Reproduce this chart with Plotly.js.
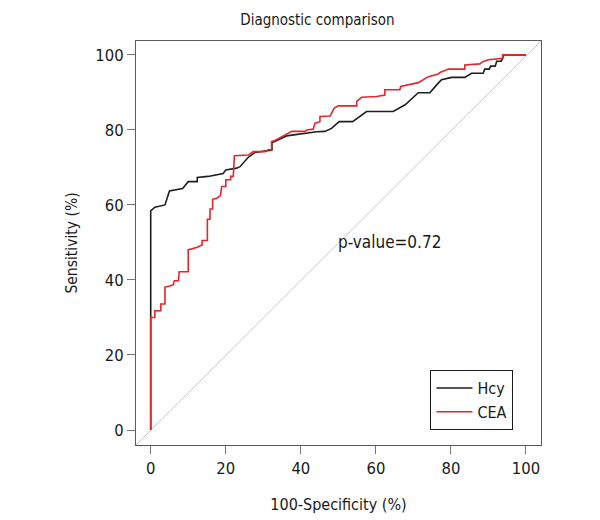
<!DOCTYPE html>
<html>
<head>
<meta charset="utf-8">
<script src="https://cdn.plot.ly/plotly-3.0.1.min.js"></script>
<style>html,body{margin:0;padding:0;background:#fff;}#chart{width:600px;height:520px;}</style>
</head>
<body>
<div id="chart"></div>
<script>
const seriesNames = ["Hcy", "CEA"];
const hcyX = [0,0,1.1,3.8,5,8.5,10,12.4,12.4,15.3,19.3,20,22.9,23.8,26,27.8,32.3,32.3,34.9,36.2,44.2,46.4,48.2,50.2,53.8,57.5,64.6,67.8,71.3,74.4,76.2,77.5,80.2,83.7,85.5,88.6,89,90.2,90.6,91.8,92.2,93.4,93.8,94,100];
const hcyY = [0,58.4,59.4,60,63.7,64.4,66.2,66.2,67.3,67.6,68.4,69.3,69.8,70.2,72.7,74,74.6,76.6,77.8,78.4,79.5,79.6,80.4,82.2,82.2,84.9,84.9,86.7,89.9,89.9,92,93.4,94,94,95.1,95.1,96.2,96.2,97,97,98.3,98.3,99.2,100,100];
const ceaX = [0,0,1.1,1.1,2.7,2.7,3.8,3.8,5,6,6.3,7.4,7.6,10,10,11.2,12.4,13.7,13.7,15.1,15.1,15.8,15.8,16.5,16.5,17.6,18.6,18.9,20,20,21.3,21.3,22,22.3,26,27.3,30.5,31.3,32.2,32.2,33.1,37.6,41.1,41.6,43.3,43.8,45.1,45.1,47.8,48.9,50,54.9,54.9,56.2,60.2,62.4,62.4,66.4,66.6,71.3,74,76.6,77.1,79.3,83.7,83.7,87.7,88.5,90,93.8,93.8,100];
const ceaY = [0,30,30,31.8,31.8,33.6,33.6,38.1,38.4,38.7,39.8,39.8,42.2,42.2,48,48.3,48.7,49.3,50.5,50.5,56.2,56.2,58.9,58.9,61.5,61.8,62.5,64.9,64.9,66.7,66.7,67.6,67.6,73.1,73.3,74.2,74.2,74.7,74.7,76.9,77.2,79.6,79.6,80,80.2,81.8,82.2,83.6,83.7,85.8,86.4,86.4,87.6,88.7,88.9,89.3,90.7,90.7,91.6,92.6,94.2,94.9,95.3,96.2,96.2,97.3,97.6,98.2,98.7,99.1,100,100];
const tickVals = [0,20,40,60,80,100];
const annotationText = "p-value=0.72";
const annotationPos = [63.5, 50];

const FONT = "'DejaVu Sans Condensed', 'Liberation Sans Narrow', sans-serif";

const traces = [
  {x: hcyX, y: hcyY, name: seriesNames[0], mode: "lines", type: "scatter",
   line: {color: "#1e1e1e", width: 1.6}},
  {x: ceaX, y: ceaY, name: seriesNames[1], mode: "lines", type: "scatter",
   line: {color: "#e3262c", width: 1.6}}
];

const axisCommon = {
  showgrid: false, zeroline: false, showline: true, mirror: true,
  linecolor: "#5a5a5a", linewidth: 1,
  ticks: "outside", ticklen: 8, tickcolor: "#777", tickwidth: 1,
  tickvals: tickVals, tickfont: {family: FONT, size: 16.5, color: "#1a1a1a"}
};

const layout = {
  width: 600, height: 520,
  margin: {l: 136, r: 59, t: 41, b: 75},
  paper_bgcolor: "#fff", plot_bgcolor: "#fff",
  font: {family: FONT, color: "#1a1a1a"},
  title: {text: "Diagnostic comparison", font: {family: FONT, size: 15, color: "#1a1a1a"},
          x: 0.448, xref: "paper", xanchor: "center", y: 0.962, yanchor: "middle"},
  xaxis: Object.assign({}, axisCommon, {range: [-3.92, 104.0],
    title: {text: "100-Specificity (%)", font: {family: FONT, size: 16, color: "#1a1a1a"}, standoff: 22}}),
  yaxis: Object.assign({}, axisCommon, {range: [-4, 103.7],
    title: {text: "Sensitivity (%)", font: {family: FONT, size: 15.5, color: "#1a1a1a"}, standoff: 13}}),
  shapes: [{type: "line", xref: "paper", yref: "paper", x0: 0, y0: 0, x1: 1, y1: 1,
            line: {color: "#c8c8c8", width: 1}, layer: "below"}],
  annotations: [{x: annotationPos[0], y: annotationPos[1], xref: "x", yref: "y", text: annotationText,
                 showarrow: false, font: {family: FONT, size: 17, color: "#1a1a1a"}}],
  showlegend: true,
  legend: {x: 0.932, y: 0.037, xanchor: "right", yanchor: "bottom",
           bordercolor: "#1a1a1a", borderwidth: 1, bgcolor: "#fff",
           font: {family: FONT, size: 16, color: "#1a1a1a"}, tracegroupgap: 0, itemwidth: 36}
};

Plotly.newPlot("chart", traces, layout, {displayModeBar: false, staticPlot: true});
</script>
</body>
</html>
